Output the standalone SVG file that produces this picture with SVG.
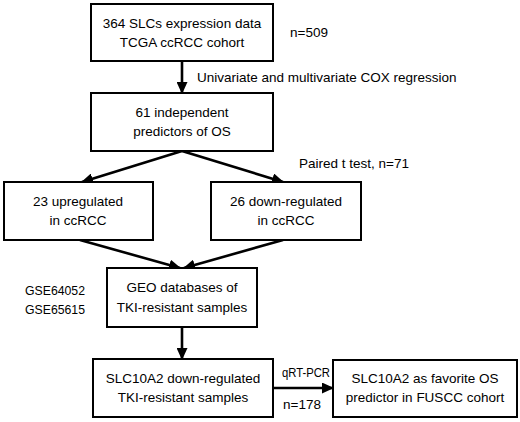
<svg xmlns="http://www.w3.org/2000/svg" width="520" height="422" viewBox="0 0 520 422">
<defs>
<marker id="ah" markerUnits="userSpaceOnUse" markerWidth="12" markerHeight="11" refX="11" refY="5.5" orient="auto">
<path d="M0,0 L12,5.5 L0,11 z" fill="#000"/>
</marker>
<style>
.box{fill:#fff;stroke:#000;stroke-width:2}
.t{font-family:"Liberation Sans",Arial,sans-serif;font-size:13.5px;fill:#000}
.c{text-anchor:middle}
.con{stroke:#000;stroke-width:2.6;fill:none;marker-end:url(#ah)}
</style>
</defs>
<rect width="520" height="422" fill="#fff"/>
<g id="connectors">
<line class="con" x1="182" y1="62" x2="182" y2="93"/>
<line class="con" x1="182" y1="151" x2="82" y2="182"/>
<line class="con" x1="182" y1="151" x2="283" y2="182"/>
<line class="con" x1="80" y1="240" x2="180" y2="268"/>
<line class="con" x1="283" y1="240" x2="184" y2="268"/>
<line class="con" x1="182" y1="327" x2="182" y2="359"/>
<line class="con" x1="273" y1="388" x2="333" y2="388"/>
</g>
<g id="n1">
<rect class="box" x="91" y="4" width="182" height="57"/>
<text class="t c" x="182" y="28">364 SLCs expression data</text>
<text class="t c" x="182" y="47">TCGA ccRCC cohort</text>
</g>
<g id="n2">
<rect class="box" x="91" y="93" width="182" height="58"/>
<text class="t c" x="182" y="117">61 independent</text>
<text class="t c" x="182" y="136">predictors of OS</text>
</g>
<g id="n3">
<rect class="box" x="4" y="182" width="149" height="58"/>
<text class="t c" x="78" y="206">23 upregulated</text>
<text class="t c" x="78" y="225">in ccRCC</text>
</g>
<g id="n4">
<rect class="box" x="211" y="182" width="150" height="58"/>
<text class="t c" x="286" y="206">26 down-regulated</text>
<text class="t c" x="286" y="225">in ccRCC</text>
</g>
<g id="n5">
<rect class="box" x="107" y="268" width="150" height="59"/>
<text class="t c" x="182" y="292">GEO databases of</text>
<text class="t c" x="182" y="312">TKI-resistant samples</text>
</g>
<g id="n6">
<rect class="box" x="93" y="359" width="180" height="58"/>
<text class="t c" x="183" y="383">SLC10A2 down-regulated</text>
<text class="t c" x="183" y="402">TKI-resistant samples</text>
</g>
<g id="n7">
<rect class="box" x="333" y="360" width="184" height="57"/>
<text class="t c" x="425" y="383">SLC10A2 as favorite OS</text>
<text class="t c" x="425" y="402">predictor in FUSCC cohort</text>
</g>
<g id="labels">
<text class="t" x="290" y="37">n=509</text>
<text class="t" x="197" y="82">Univariate and multivariate COX regression</text>
<text class="t" x="299" y="168">Paired t test, n=71</text>
<text class="t" x="25" y="295" textLength="60" lengthAdjust="spacingAndGlyphs">GSE64052</text>
<text class="t" x="25" y="314" textLength="60" lengthAdjust="spacingAndGlyphs">GSE65615</text>
<text class="t" x="282" y="377" textLength="48" lengthAdjust="spacingAndGlyphs">qRT-PCR</text>
<text class="t" x="283" y="409">n=178</text>
</g>
</svg>
